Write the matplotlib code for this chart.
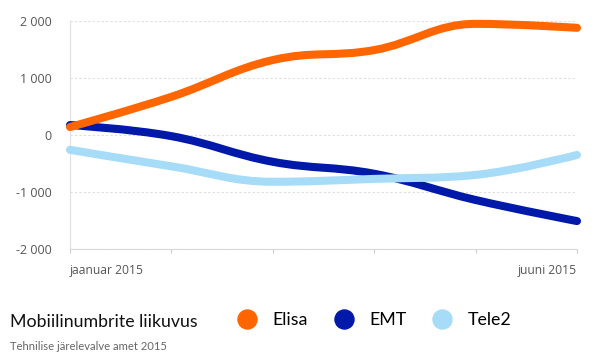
import numpy as np
import matplotlib.pyplot as plt
from matplotlib.path import Path
from matplotlib.patches import PathPatch
from matplotlib.lines import Line2D

plt.rcParams['font.family'] = ['Lato', 'DejaVu Sans']

months = ['jaanuar 2015', 'veebruar 2015', 'märts 2015',
          'aprill 2015', 'mai 2015', 'juuni 2015']
elisa = [140, 670, 1315, 1490, 1950, 1880]
emt = [175, -20, -470, -680, -1140, -1510]
tele2 = [-260, -550, -820, -770, -700, -350]

series = [
    ('EMT', emt, '#0019a8'),
    ('Tele2', tele2, '#a6dcf8'),
    ('Elisa', elisa, '#ff6600'),
]
legend_order = ['Elisa', 'EMT', 'Tele2']
tick_font = ['Open Sans', 'DejaVu Sans']


def spline_path(ys, smoothing=1.5):
    # highcharts-style spline, control points in data coords
    xs = np.arange(len(ys), dtype=float)
    ys = np.asarray(ys, dtype=float)
    n = len(ys)
    left = [None] * n
    right = [None] * n
    denom = smoothing + 1
    for i in range(1, n - 1):
        lx = (smoothing * xs[i] + xs[i - 1]) / denom
        ly = (smoothing * ys[i] + ys[i - 1]) / denom
        rx = (smoothing * xs[i] + xs[i + 1]) / denom
        ry = (smoothing * ys[i] + ys[i + 1]) / denom
        corr = (ry - ly) * (rx - xs[i]) / (rx - lx) + ys[i] - ry
        ly += corr
        ry += corr
        hi, lo = max(ys[i - 1], ys[i]), min(ys[i - 1], ys[i])
        if ly > hi:
            ly = hi
            ry = 2 * ys[i] - ly
        elif ly < lo:
            ly = lo
            ry = 2 * ys[i] - ly
        hi, lo = max(ys[i + 1], ys[i]), min(ys[i + 1], ys[i])
        if ry > hi:
            ry = hi
            ly = 2 * ys[i] - ry
        elif ry < lo:
            ry = lo
            ly = 2 * ys[i] - ry
        left[i] = (lx, ly)
        right[i] = (rx, ry)
    verts = [(xs[0], ys[0])]
    codes = [Path.MOVETO]
    for i in range(1, n):
        c1 = right[i - 1] or (xs[i - 1], ys[i - 1])
        c2 = left[i] or (xs[i], ys[i])
        verts += [c1, c2, (xs[i], ys[i])]
        codes += [Path.CURVE4] * 3
    return Path(verts, codes)


fig = plt.figure(figsize=(6.01, 3.55), dpi=100)
ax = fig.add_axes([70 / 601, 1 - 249 / 355, 507 / 601, 228 / 355])

for name, vals, color in series:
    patch = PathPatch(spline_path(vals), fill=False, edgecolor=color,
                      lw=5.8, capstyle='round', joinstyle='round',
                      clip_on=False, zorder=3)
    ax.add_patch(patch)

ax.set_xlim(0, len(months) - 1)
ax.set_ylim(-2000, 2000)
yt = [-2000, -1000, 0, 1000, 2000]
ax.set_yticks(yt)
ax.set_yticklabels([f'{v:,}'.replace(',', ' ') for v in yt], family=tick_font)
ax.yaxis.grid(True, color='#dddddd', ls=(0, (2, 2)), lw=0.8)
ax.tick_params(axis='y', length=0, pad=13, labelsize=9, labelcolor='#555555')

ax.set_xticks(range(len(months)))
ax.set_xticklabels([m if i in (0, len(months) - 1) else ''
                    for i, m in enumerate(months)], family=tick_font)
xl = ax.get_xticklabels()
xl[0].set_ha('left')
xl[-1].set_ha('right')
ax.tick_params(axis='x', length=3, color='#cccccc', pad=8, labelsize=8.7,
               labelcolor='#555555')

for s in ['top', 'right']:
    ax.spines[s].set_visible(False)
ax.spines['left'].set_color('#e0e0e0')
ax.spines['bottom'].set_color('#d8d8d8')

fig.text(10 / 601, 1 - 327 / 355, 'Mobiilinumbrite liikuvus', fontsize=12.8,
         color='#111111', va='baseline', ha='left')
fig.text(10 / 601, 1 - 350 / 355, 'Tehnilise järelevalve amet 2015', fontsize=8.1,
         color='#666666', va='baseline', ha='left')

colors = {name: c for name, _, c in series}
handles = [Line2D([], [], ls='', marker='o', markersize=13.7,
                  markerfacecolor=colors[n], markeredgecolor=colors[n])
           for n in legend_order]
fig.legend(handles, legend_order, loc='center left',
           bbox_to_anchor=(238 / 601, 1 - 320 / 355), ncol=3, frameon=False,
           fontsize=12.8, handlelength=1.0, handletextpad=0.95,
           columnspacing=1.5, borderpad=0, borderaxespad=0)

fig.savefig('out.png', dpi=100)
